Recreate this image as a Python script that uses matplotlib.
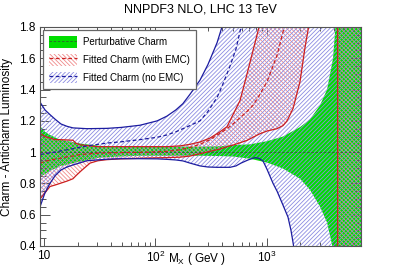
import matplotlib
matplotlib.use("Agg")
import matplotlib.pyplot as plt
from matplotlib.lines import Line2D
from matplotlib.patches import Patch
from matplotlib.ticker import FixedLocator, FixedFormatter, LogLocator, NullFormatter, MultipleLocator

plt.rcParams["font.family"] = ["Liberation Sans", "DejaVu Sans"]
plt.rcParams["mathtext.fontset"] = "custom"
plt.rcParams["mathtext.rm"] = "Liberation Sans"
plt.rcParams["mathtext.it"] = "Liberation Sans:italic"
plt.rcParams["hatch.linewidth"] = 0.6

# Perturbative charm band
pch_mass = [9.2, 10.2, 11.3, 13.9, 21.1, 31.8, 48.2, 72.8, 110, 167, 252, 381, 499,
            710, 1009, 1406, 1995, 2458, 3020, 3493, 3954, 4205, 7050]
pch_up = [1.167, 1.13, 1.11, 1.08, 1.055, 1.04, 1.037, 1.035, 1.035, 1.035, 1.035, 1.038, 1.045,
          1.05, 1.07, 1.10, 1.16, 1.21, 1.30, 1.40, 1.60, 1.85, 2.5]
pch_lo = [0.84, 0.86, 0.88, 0.91, 0.94, 0.965, 0.972, 0.977, 0.977, 0.977, 0.977, 0.975, 0.972,
          0.958, 0.933, 0.895, 0.83, 0.758, 0.651, 0.55, 0.38, 0.2, 0.0]

# Fitted charm, with EMC
emc_mass = [9.2, 10.2, 11.3, 12.6, 13.9, 16.1, 18.2, 19.4, 21.5, 25.9,
            30.5, 36.8, 48.2, 86, 127, 167, 205, 252, 310, 381,
            441, 499, 577, 667, 755, 855, 1009, 1242, 1406, 1528,
            1730, 1995, 2215, 2410, 3020, 4350, 4350, 7050]
emc_up = [1.12, 1.10, 1.09, 1.08, 1.08, 1.078, 1.076, 1.056, 1.046, 1.04,
          1.035, 1.035, 1.035, 1.035, 1.035, 1.04, 1.05, 1.065, 1.09, 1.13,
          1.163, 1.24, 1.33, 1.50, 1.65, 1.80, 2.0, 2.2, 2.4, 2.5,
          2.6, 2.6, 2.6, 2.6, 2.6, 2.6, 2.6, 2.6]
emc_lo = [0.70, 0.74, 0.78, 0.79, 0.80, 0.815, 0.83, 0.85, 0.88, 0.93,
          0.945, 0.952, 0.957, 0.962, 0.965, 0.968, 0.975, 0.99, 1.005, 1.02,
          1.035, 1.045, 1.06, 1.075, 1.095, 1.115, 1.135, 1.15, 1.17, 1.20,
          1.28, 1.45, 1.67, 1.82, 2.0, 2.0, 0.0, 0.0]
emc_mid = [0.93, 0.94, 0.95, 0.955, 0.96, 0.97, 0.975, 0.98, 0.985, 0.99,
           0.993, 0.995, 0.997, 1.0, 1.005, 1.015, 1.03, 1.05, 1.08, 1.12,
           1.15, 1.18, 1.22, 1.26, 1.30, 1.36, 1.45, 1.62, 1.77, 1.88,
           2.0, 2.2, 2.2, 2.2, 2.2, 2.2, 2.2, 2.2]

# Fitted charm, no EMC
nemc_mass = [9.2, 10.2, 11.3, 12.6, 14.2, 16.1, 18.2, 24.3, 36.8, 49.2,
             72.8, 104, 127, 153, 177, 205, 252, 297, 359, 397,
             469, 531, 589, 681, 787, 855, 929, 1009, 1143, 1242,
             1406, 1556, 1656, 1730, 1837, 7050]
nemc_up = [1.32, 1.27, 1.24, 1.21, 1.18, 1.165, 1.155, 1.15, 1.152, 1.158,
           1.172, 1.20, 1.23, 1.27, 1.31, 1.37, 1.46, 1.56, 1.70, 1.80,
           2.0, 2.2, 2.5, 2.5, 2.5, 2.5, 2.5, 2.5, 2.5, 2.5,
           2.5, 2.5, 2.5, 2.5, 2.5, 2.5]
nemc_lo = [0.65, 0.74, 0.80, 0.85, 0.886, 0.905, 0.918, 0.945, 0.955, 0.958,
           0.958, 0.957, 0.954, 0.95, 0.944, 0.93, 0.912, 0.905, 0.903, 0.903,
           0.903, 0.912, 0.93, 0.95, 0.965, 0.96, 0.943, 0.89, 0.80, 0.75,
           0.66, 0.585, 0.50, 0.42, 0.30, 0.0]
nemc_mid = [0.985, 0.99, 0.995, 1.0, 1.008, 1.015, 1.022, 1.04, 1.058, 1.066,
            1.08, 1.095, 1.11, 1.13, 1.15, 1.17, 1.20, 1.26, 1.35, 1.42,
            1.55, 1.66, 1.80, 2.0, 2.2, 2.2, 2.2, 2.2, 2.2, 2.2,
            2.2, 2.2, 2.2, 2.2, 2.2, 2.2]

y_ticks = [0.4, 0.6, 0.8, 1.0, 1.2, 1.4, 1.6, 1.8]
y_labels = ["0.4", "0.6", "0.8", "1", "1.2", "1.4", "1.6", "1.8"]
x_ticks = [10, 100, 1000]
x_labels = ["10", "10$^{2}$", "10$^{3}$"]

GREEN = "#00dd00"
RED = "#cc1f1f"
RED_HATCH = "#f08a8a"
BLUE = "#1c1ca0"
BLUE_HATCH = "#8c8ce2"
FRAME = "#555555"
RED_PAT = "\\" * 8
BLUE_PAT = "/" * 8

fig = plt.figure(figsize=(4.01, 2.72), dpi=100)
ax = fig.add_axes([40 / 401, 26 / 272, 321 / 401, 219 / 272])

ax.fill_between(pch_mass, pch_lo, pch_up, color=GREEN, lw=0, zorder=1)
ax.axhline(1.0, color="#2f5f2f", lw=0.6, ls=(0, (3, 2)), zorder=5)

ax.fill_between(emc_mass, emc_lo, emc_up, facecolor="none", edgecolor=RED_HATCH,
                hatch=RED_PAT, lw=0, zorder=2)
ax.fill_between(nemc_mass, nemc_lo, nemc_up, facecolor="none", edgecolor=BLUE_HATCH,
                hatch=BLUE_PAT, lw=0, zorder=3)

for ys in (emc_up, emc_lo):
    ax.plot(emc_mass, ys, color=RED, lw=0.9, zorder=6)
ax.plot(emc_mass, emc_mid, color=RED, lw=0.9, ls=(0, (3, 2)), zorder=6)
for ys in (nemc_up, nemc_lo):
    ax.plot(nemc_mass, ys, color=BLUE, lw=0.9, zorder=6)
ax.plot(nemc_mass, nemc_mid, color=BLUE, lw=0.9, ls=(0, (3, 2)), zorder=6)

ax.set_xscale("log")
ax.set_xlim(9.2, 7050)
ax.set_ylim(0.4, 1.8)

ax.xaxis.set_major_locator(FixedLocator(x_ticks))
ax.xaxis.set_major_formatter(FixedFormatter(x_labels))
ax.xaxis.set_minor_locator(LogLocator(base=10, subs=range(2, 10)))
ax.xaxis.set_minor_formatter(NullFormatter())
ax.yaxis.set_major_locator(FixedLocator(y_ticks))
ax.yaxis.set_major_formatter(FixedFormatter(y_labels))
ax.yaxis.set_minor_locator(MultipleLocator(0.05))

ax.tick_params(which="both", direction="in", top=True, right=True, color=FRAME,
               labelsize=8.5, width=0.7)
ax.tick_params(axis="x", which="major", length=6, pad=3)
ax.tick_params(axis="x", which="minor", length=3)
ax.tick_params(axis="y", which="major", length=7, pad=3)
ax.tick_params(axis="y", which="minor", length=4)
for s in ax.spines.values():
    s.set_color(FRAME)
    s.set_linewidth(0.8)
    s.set_zorder(10)

ax.set_xlabel("M$_{\\mathrm{X}}$ ( GeV )", fontsize=8.5)
ax.xaxis.set_label_coords(0.49, -0.025)
ax.set_ylabel("Charm - Anticharm Luminosity", fontsize=8.5)
ax.yaxis.set_label_coords(-0.083, 0.5)
fig.text(0.5, 1 - 10 / 272, "NNPDF3 NLO, LHC 13 TeV", ha="center", va="center", fontsize=9)

handles = [
    (Patch(facecolor=GREEN, edgecolor="none"),
     Line2D([], [], color="#2f5f2f", lw=0.6, ls=(0, (3, 2)))),
    (Patch(facecolor="none", edgecolor=RED_HATCH, hatch=RED_PAT, lw=0),
     Line2D([], [], color=RED, lw=0.9, ls=(0, (3, 2)))),
    (Patch(facecolor="none", edgecolor=BLUE_HATCH, hatch=BLUE_PAT, lw=0),
     Line2D([], [], color=BLUE, lw=0.9, ls=(0, (3, 2)))),
]
labels = ["Perturbative Charm", "Fitted Charm (with EMC)", "Fitted Charm (no EMC)"]
leg = ax.legend(handles, labels, loc="upper left", bbox_to_anchor=(0.01, 0.985),
                fontsize=7, handlelength=2.9, handleheight=1.5, handletextpad=0.6,
                labelspacing=0.6, borderpad=0.6, borderaxespad=0, fancybox=False,
                framealpha=1, edgecolor="#666666")
leg.get_frame().set_linewidth(0.9)
leg.set_zorder(20)

fig.savefig("out.png", dpi=100)
